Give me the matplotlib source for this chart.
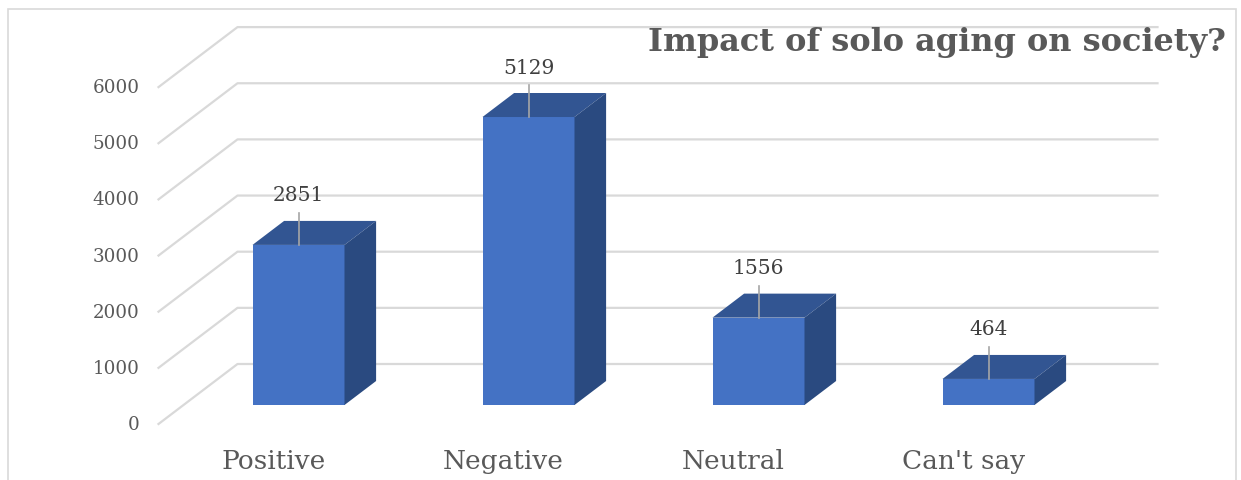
import numpy as np
from matplotlib import pyplot as plt
from matplotlib.patches import Polygon, Rectangle

# 数据
categories = ['Positive', 'Negative', 'Neutral', "Can't say"]
values = [2851, 5129, 1556, 464]
yticks = [0, 1000, 2000, 3000, 4000, 5000, 6000]
title = 'Impact of solo aging on society?'

# 样式
frontColor = '#4472C4'    # 正面
topColor = '#325592'    # 顶面
sideColor = '#2A4A80'    # 侧面
gridColor = '#D9D9D9'
textColor = '#595959'
barWidth = 0.4
barDepth = (31.6, 24)    # 柱体深度偏移(像素)
backWall = (54, 41)    # 后墙相对柱体正面的偏移
frontEdge = (-25, -19)    # 前沿相对柱体正面的偏移

W, H = 1241, 481
fig = plt.figure(figsize=(W / 100, H / 100), dpi=100)
# 坐标轴: x为类别, y为数值, 柱体正面平面
axLeft, axRight, axBottom, axTop = 183.5, 1103.5, 406, 406 - 336.9
ax = fig.add_axes([axLeft / W, (H - axBottom) / H, (axRight - axLeft) / W, (axBottom - axTop) / H])
ax.set_xlim(-0.5, len(categories) - 0.5)
ax.set_ylim(0, 6000)
ax.axis('off')


def shift(x, y, dx, dy):    # 在像素空间中平移数据点
    px, py = ax.transData.transform((x, y))
    return ax.transData.inverted().transform((px + dx, py + dy))


# 网格线: 后墙水平线 + 地面斜线
x0, x1 = ax.get_xlim()
for v in yticks:
    back0 = shift(x0, v, *backWall)
    back1 = shift(x1, v, *backWall)
    front0 = shift(x0, v, *frontEdge)
    ax.plot([front0[0], back0[0], back1[0]], [front0[1], back0[1], back1[1]],
            color=gridColor, lw=1.6, clip_on=False, zorder=1)
    lab = shift(x0, v, frontEdge[0] - 19, frontEdge[1])
    ax.text(lab[0], lab[1], str(v), ha='right', va='center', fontsize=13.2,
            family='DejaVu Serif', color=textColor)

# 柱体
xs = np.arange(len(categories))
ax.bar(xs, values, width=barWidth, color=frontColor, zorder=3, clip_on=False)
for x, v in zip(xs, values):
    l, r = x - barWidth / 2, x + barWidth / 2
    top = [(l, v), (r, v), tuple(shift(r, v, *barDepth)), tuple(shift(l, v, *barDepth))]
    side = [(r, 0), (r, v), tuple(shift(r, v, *barDepth)), tuple(shift(r, 0, *barDepth))]
    ax.add_patch(Polygon(top, closed=True, facecolor=topColor, edgecolor='none', zorder=3, clip_on=False))
    ax.add_patch(Polygon(side, closed=True, facecolor=sideColor, edgecolor='none', zorder=3, clip_on=False))
    # 数据标签与引线
    lineEnd = shift(x, v, 0, 32)
    ax.plot([x, x], [v, lineEnd[1]], color='#A6A6A6', lw=1.2, zorder=4, clip_on=False)
    lab = shift(x, v, 0, 50)
    ax.text(x, lab[1], str(v), ha='center', va='center', fontsize=14.5,
            family='DejaVu Serif', color='#404040', zorder=5)
    # 类别标签
    cat = shift(x, 0, frontEdge[0], -56)
    ax.text(cat[0], cat[1], categories[x], ha='center', va='center', fontsize=19,
            family='DejaVu Serif', color=textColor)

# 标题
fig.text(1226 / W, 1 - 43 / H, title, ha='right', va='center', fontsize=23,
         family='DejaVu Serif', weight='bold', color=textColor)

# 图表外框
fig.add_artist(Rectangle((8 / W, -0.1), (1236 - 8) / W, 1.1 - 10 / H, transform=fig.transFigure,
                         fill=False, edgecolor=gridColor, lw=1.2))

fig.savefig('out.png', dpi=100)
